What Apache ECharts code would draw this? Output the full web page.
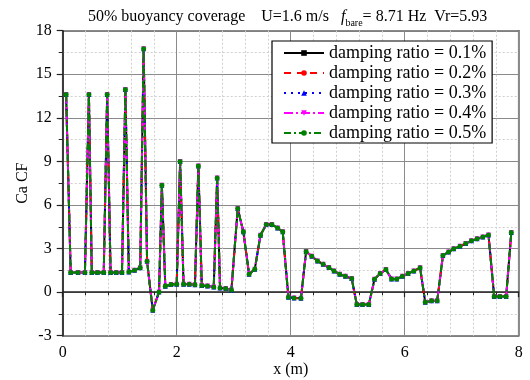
<!DOCTYPE html>
<html>
<head>
<meta charset="utf-8">
<script src="https://cdn.jsdelivr.net/npm/echarts@6/dist/echarts.min.js"></script>
<style>
  html, body { margin: 0; padding: 0; background: #fff; }
  #chart { width: 530px; height: 380px; }
</style>
</head>
<body>
<div id="chart"></div>
<script>
// Positions along the riser (m)
const positions = [
  0.06, 0.14, 0.27, 0.39, 0.46, 0.51, 0.61, 0.72, 0.78, 0.84,
  0.94, 1.04, 1.10, 1.16, 1.26, 1.36, 1.42, 1.48, 1.58, 1.69,
  1.74, 1.80, 1.90, 2.00, 2.06, 2.12, 2.22, 2.32, 2.38, 2.44,
  2.54, 2.65, 2.71, 2.76, 2.86, 2.96, 3.07, 3.17, 3.27, 3.37,
  3.47, 3.57, 3.67, 3.77, 3.86, 3.96, 4.06, 4.18, 4.27, 4.37,
  4.47, 4.57, 4.67, 4.76, 4.86, 4.96, 5.07, 5.16, 5.26, 5.37,
  5.47, 5.57, 5.67, 5.77, 5.86, 5.96, 6.06, 6.16, 6.27, 6.36,
  6.47, 6.57, 6.67, 6.77, 6.86, 6.97, 7.07, 7.17, 7.27, 7.37,
  7.47, 7.57, 7.67, 7.78, 7.87
];

// Added-mass coefficient in the cross-flow direction; the five damping
// ratios give the same distribution
const caCF = [
  13.6, 1.35, 1.35, 1.35, 13.6, 1.35, 1.35, 1.35, 13.6, 1.35,
  1.35, 1.35, 13.95, 1.39, 1.51, 1.67, 16.75, 2.13, -1.25, 0.01,
  7.36, 0.41, 0.52, 0.55, 9.0, 0.55, 0.55, 0.50, 8.69, 0.45,
  0.43, 0.36, 7.85, 0.29, 0.25, 0.15, 5.75, 4.15, 1.23, 1.58,
  3.92, 4.65, 4.65, 4.42, 4.15, -0.35, -0.40, -0.42, 2.79, 2.47,
  2.15, 1.92, 1.69, 1.46, 1.23, 1.09, 0.93, -0.86, -0.86, -0.86,
  0.89, 1.28, 1.55, 0.91, 0.91, 1.09, 1.28, 1.46, 1.67, -0.69,
  -0.60, -0.60, 2.52, 2.77, 2.98, 3.16, 3.34, 3.53, 3.67, 3.80,
  3.94, -0.30, -0.30, -0.30, 4.10
];

const dampingLabels = [
  'damping ratio = 0.1%',
  'damping ratio = 0.2%',
  'damping ratio = 0.3%',
  'damping ratio = 0.4%',
  'damping ratio = 0.5%'
];

const xTicks = { min: 0, max: 8, interval: 2 };
const yTicks = { min: -3, max: 18, interval: 3 };

const FONT = '"Liberation Serif", "Times New Roman", serif';

const styles = [
  { color: '#000000', type: 'solid',        symbol: 'rect',     size: 3, rotate: 0 },
  { color: '#ff0000', type: [7, 6],         symbol: 'circle',   size: 4, rotate: 0 },
  { color: '#0000ff', type: [2, 5],         symbol: 'triangle', size: 5, rotate: 0 },
  { color: '#ff00ff', type: [9, 3, 2, 3],   symbol: 'triangle', size: 5, rotate: 180 },
  { color: '#008000', type: [7, 3, 2, 3],   symbol: 'circle',   size: 5, rotate: 0 }
];

const points = positions.map((x, i) => [x, caCF[i]]);

const series = dampingLabels.map((name, k) => ({
  name: name,
  type: 'line',
  data: points,
  symbol: styles[k].symbol,
  symbolSize: styles[k].size,
  symbolRotate: styles[k].rotate,
  showSymbol: true,
  animation: false,
  z: 2 + k,
  lineStyle: { color: styles[k].color, width: 2, type: styles[k].type },
  itemStyle: { color: styles[k].color, borderWidth: 0 }
}));

const chart = echarts.init(document.getElementById('chart'), null, { renderer: 'canvas' });

chart.setOption({
  backgroundColor: '#ffffff',
  animation: false,
  title: {
    left: 83,
    top: 0,
    text: '{a|50% buoyancy coverage    U=1.6 m/s   }{f|f}{s|bare}{a|= 8.71 Hz  Vr=5.93}',
    textStyle: {
      fontWeight: 'normal',
      rich: {
        a: { fontFamily: FONT, fontSize: 16, fontWeight: 'normal', color: '#000', lineHeight: 23 },
        f: { fontFamily: FONT, fontSize: 16, fontWeight: 'normal', fontStyle: 'italic', color: '#000', lineHeight: 23 },
        s: { fontFamily: FONT, fontSize: 10, fontWeight: 'normal', color: '#000', lineHeight: 10, verticalAlign: 'bottom' }
      }
    }
  },
  legend: {
    data: dampingLabels,
    orient: 'vertical',
    left: 272,
    top: 41,
    padding: [3, 6, 1, 11],
    itemGap: 2,
    itemWidth: 40,
    itemHeight: 7,
    backgroundColor: '#ffffff',
    borderColor: '#000000',
    borderWidth: 1.2,
    textStyle: { fontFamily: FONT, fontSize: 18, color: '#000' }
  },
  grid: {
    left: 62.7,
    right: 11.3,
    top: 30.7,
    bottom: 44.3,
    outerBoundsMode: 'none',
    show: true,
    borderColor: '#000',
    borderWidth: 1.5,
    backgroundColor: 'transparent'
  },
  xAxis: {
    type: 'value',
    min: xTicks.min,
    max: xTicks.max,
    interval: xTicks.interval,
    name: 'x (m)',
    nameLocation: 'middle',
    nameGap: 26,
    nameMoveOverlap: false,
    nameTextStyle: { fontFamily: FONT, fontSize: 16, color: '#000' },
    axisLine: { show: true, lineStyle: { color: '#222', width: 1.5 } },
    axisTick: { show: true, inside: false, length: 5, lineStyle: { color: '#222', width: 1.2 } },
    minorTick: { show: true, splitNumber: 5, length: 3, lineStyle: { color: '#222', width: 1 } },
    axisLabel: { fontFamily: FONT, fontSize: 16, color: '#000', margin: 9 },
    splitLine: { show: true, lineStyle: { color: '#8a8a8a', width: 1 } },
    minorSplitLine: { show: true, lineStyle: { color: '#cfcfcf', width: 1, type: [2, 2] } }
  },
  yAxis: {
    type: 'value',
    min: yTicks.min,
    max: yTicks.max,
    interval: yTicks.interval,
    name: 'Ca CF',
    nameLocation: 'middle',
    nameGap: 32,
    nameMoveOverlap: false,
    nameTextStyle: { fontFamily: FONT, fontSize: 16, color: '#000' },
    axisLine: { show: true, lineStyle: { color: '#222', width: 1.5 } },
    axisTick: { show: true, inside: false, length: 6, lineStyle: { color: '#222', width: 1.2 } },
    minorTick: { show: true, splitNumber: 2, length: 4, lineStyle: { color: '#222', width: 1 } },
    axisLabel: { fontFamily: FONT, fontSize: 16, color: '#000', margin: 11 },
    splitLine: { show: true, lineStyle: { color: '#8a8a8a', width: 1 } },
    minorSplitLine: { show: true, lineStyle: { color: '#cfcfcf', width: 1, type: [2, 2] } }
  },
  series: series
});
</script>
</body>
</html>
